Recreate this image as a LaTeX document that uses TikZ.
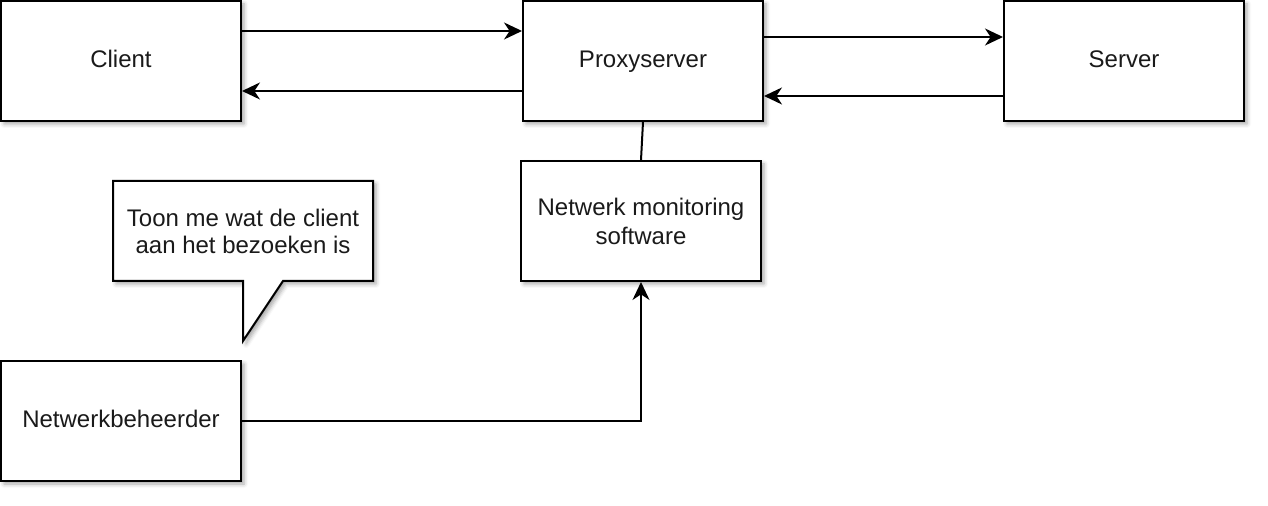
\documentclass[tikz,border=0pt]{standalone}
\usepackage{fontspec}
\setmainfont{Liberation Sans}
\usetikzlibrary{arrows.meta,shadows.blur}
\definecolor{txt}{HTML}{1A1A1A}
\tikzset{
  x=0.5pt,y=-0.5pt,
  boxshadow/.style={blur shadow={shadow xshift=1.5pt,shadow yshift=-1.5pt,shadow blur radius=2pt,shadow opacity=35,shadow scale=1}},
  box/.style={draw=black,line width=1pt,fill=white,minimum width=120pt,minimum height=60pt,inner sep=0pt,align=center,text=txt,font=\fontsize{12pt}{14.5pt}\selectfont,boxshadow},
  oneline/.style={text height=0.85em,text depth=0.22em},
  conn/.style={line width=1pt,draw=black},
  arr/.style={conn,-{Stealth[length=9pt,width=8.5pt,inset=2.8pt]}}
}
\begin{document}
\begin{tikzpicture}
\useasboundingbox (0,0) rectangle (1268,506);
\node[box,oneline] (client) at (121,61) {Client};
\node[box,oneline] (proxy) at (643,61) {Proxyserver};
\node[box,oneline] (server) at (1124,61) {Server};
\node[box] (nms) at (641,221) {Netwerk monitoring\\software};
\node[box,oneline] (nb) at (121,421) {Netwerkbeheerder};
\draw[line width=1pt,fill=white,boxshadow,line join=miter]
  (113,181) -- (373,181) -- (373,281) -- (283,281) -- (243,341) -- (243,281) -- (113,281) -- cycle;
\node[text=txt,align=center,font=\fontsize{12pt}{13.5pt}\selectfont] (callout) at (243,231) {Toon me wat de client\\aan het bezoeken is};
\draw[arr] ([yshift=15pt]client.east) -- ([yshift=15pt]proxy.west);
\draw[arr] ([yshift=-15pt]proxy.west) -- ([yshift=-15pt]client.east);
\draw[arr] ([yshift=12pt]proxy.east) -- ([yshift=12pt]server.west);
\draw[arr] ([yshift=-17.5pt]server.west) -- ([yshift=-17.5pt]proxy.east);
\draw[conn] (proxy.south) -- (nms.north);
\draw[arr] (nb.east) -| (nms.south);
\end{tikzpicture}
\end{document}
